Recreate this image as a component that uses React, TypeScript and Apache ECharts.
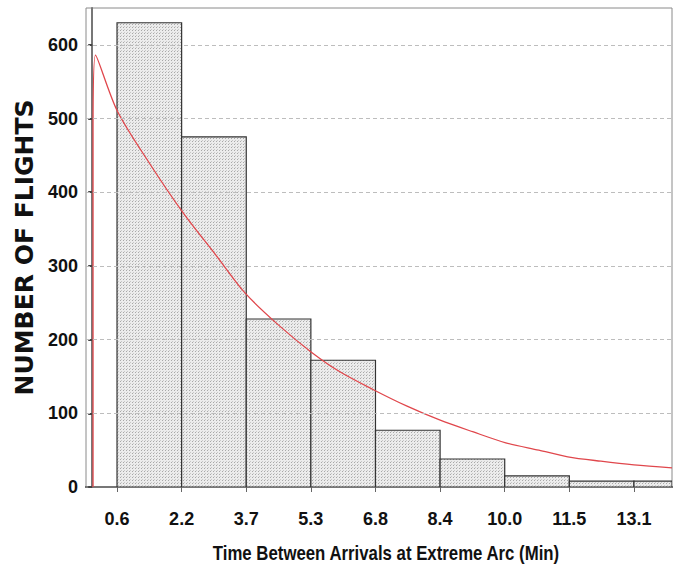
import React, { useEffect, useRef } from "react";
import * as echarts from "echarts";

// Histogram bins (start of each bin, minutes) and counts
const binWidth = 1.5625;
const binStarts = [0.6, 2.1625, 3.725, 5.2875, 6.85, 8.4125, 9.975, 11.5375, 13.1];
const counts = [630, 475, 228, 172, 77, 38, 15, 8, 8];
const tickLabels = ["0.6", "2.2", "3.7", "5.3", "6.8", "8.4", "10.0", "11.5", "13.1"];

// Fitted curve
const curveX = [0.02, 0.02, 0.08, 0.6, 1.4, 2.2, 3.0, 3.7, 4.5, 5.3, 6.0, 6.8, 7.6, 8.4, 9.2, 10.0, 10.8, 11.5, 12.3, 13.1, 14.02];
const curveY = [0, 480, 586, 511, 438, 372, 314, 263, 220, 183, 156, 132, 110, 91, 75, 60, 50, 41, 35, 30, 26];

const yTicks = [0, 100, 200, 300, 400, 500, 600];

const xTitle = "Time Between Arrivals at Extreme Arc (Min)";
const yTitle = "NUMBER OF FLIGHTS";

const SANS = "'Liberation Sans', Arial, sans-serif";

function makePattern(): HTMLCanvasElement {
  const c = document.createElement("canvas");
  c.width = 3;
  c.height = 3;
  const ctx = c.getContext("2d")!;
  ctx.fillStyle = "#ececec";
  ctx.fillRect(0, 0, 3, 3);
  ctx.fillStyle = "#a8a8a8";
  ctx.fillRect(0, 0, 1, 1);
  ctx.fillStyle = "#c8c8c8";
  ctx.fillRect(1, 2, 1, 1);
  return c;
}

export default function App() {
  const ref = useRef<HTMLDivElement>(null);
  useEffect(() => {
    if (!ref.current) return;
    const chart = echarts.init(ref.current, undefined, { renderer: "svg" });
    const pattern = makePattern();
    const barData = binStarts.map((s, i) => [s, s + binWidth, counts[i]]);
    const curveData = curveX.map((x, i) => [x, curveY[i]]);
    const xMin = -0.15;
    const xMax = 14.02;
    chart.setOption({
      animation: false,
      backgroundColor: "#fff",
      grid: { left: 86, right: 6, top: 8, bottom: 88, show: true, borderColor: "#8a8a8a", borderWidth: 1 },
      graphic: [
        {
          type: "text",
          x: 386,
          y: 553,
          scaleX: 0.84,
          style: {
            text: xTitle,
            textAlign: "center",
            textVerticalAlign: "middle",
            fontFamily: SANS,
            fontWeight: "bold",
            fontSize: 20,
            fill: "#111",
          },
        },
      ],
      xAxis: [
        {
          type: "value",
          min: xMin,
          max: xMax,
          position: "bottom",
          axisLine: { show: true, onZero: false, lineStyle: { color: "#222", width: 2 } },
          axisTick: { show: false },
          splitLine: { show: false },
          axisLabel: {
            customValues: binStarts,
            formatter: (v: number) => {
              const i = binStarts.findIndex((b) => Math.abs(b - v) < 1e-6);
              return i >= 0 ? tickLabels[i] : "";
            },
            margin: 23,
            fontFamily: SANS,
            fontWeight: "bold",
            fontSize: 18,
            color: "#111",
          },
        },
        {
          type: "value",
          min: xMin,
          max: xMax,
          position: "top",
          axisLine: { show: true, lineStyle: { color: "#777", width: 2 } },
          axisTick: { show: true, inside: true, length: 5, customValues: binStarts, lineStyle: { color: "#666" } },
          axisLabel: { show: false },
          splitLine: { show: false },
        },
      ],
      yAxis: [
        {
          type: "value",
          min: 0,
          max: 650,
          position: "left",
          name: yTitle,
          nameLocation: "middle",
          nameGap: 47,
          nameTextStyle: { fontFamily: "'DejaVu Sans', sans-serif", fontWeight: "bold", fontSize: 25, color: "#111" },
          axisLine: { show: true, lineStyle: { color: "#999" } },
          axisTick: { show: false },
          axisLabel: {
            customValues: yTicks,
            margin: 8,
            fontFamily: SANS,
            fontWeight: "bold",
            fontSize: 18,
            color: "#111",
          },
          splitLine: { show: false },
        },
        {
          type: "value",
          min: 0,
          max: 650,
          position: "right",
          axisLine: { show: true, lineStyle: { color: "#777", width: 2 } },
          axisTick: { show: true, inside: true, length: 4, customValues: yTicks, lineStyle: { color: "#444", width: 2 } },
          axisLabel: { show: false },
          splitLine: { show: false },
        },
      ],
      series: [
        {
          type: "line",
          data: yTicks.slice(1).map((v) => [xMin, v]),
          silent: true,
          showSymbol: false,
          lineStyle: { opacity: 0 },
          markLine: {
            silent: true,
            symbol: "none",
            label: { show: false },
            lineStyle: { type: [4, 3], color: "#bdbdbd", width: 1 },
            data: yTicks.slice(1).map((v) => ({ yAxis: v })),
          },
          z: 1,
        },
        {
          type: "custom",
          clip: true,
          data: barData,
          encode: { x: [0, 1], y: 2 },
          renderItem: (params: any, api: any) => {
            const p1 = api.coord([api.value(0), api.value(2)]);
            const p2 = api.coord([api.value(1), 0]);
            const cs = params.coordSys;
            const right = Math.min(p2[0], cs.x + cs.width);
            return {
              type: "rect",
              shape: { x: p1[0], y: p1[1], width: right - p1[0], height: p2[1] - p1[1] },
              style: {
                fill: { image: pattern, repeat: "repeat" },
                stroke: "#333",
                lineWidth: 1.2,
              },
            };
          },
          z: 2,
        },
        {
          type: "line",
          data: curveData,
          showSymbol: false,
          smooth: 0.3,
          lineStyle: { color: "#e0474c", width: 1.3 },
          z: 3,
        },
      ],
    });
    return () => chart.dispose();
  }, []);
  return <div ref={ref} style={{ position: "fixed", left: 0, top: 0, width: 678, height: 575 }} />;
}
